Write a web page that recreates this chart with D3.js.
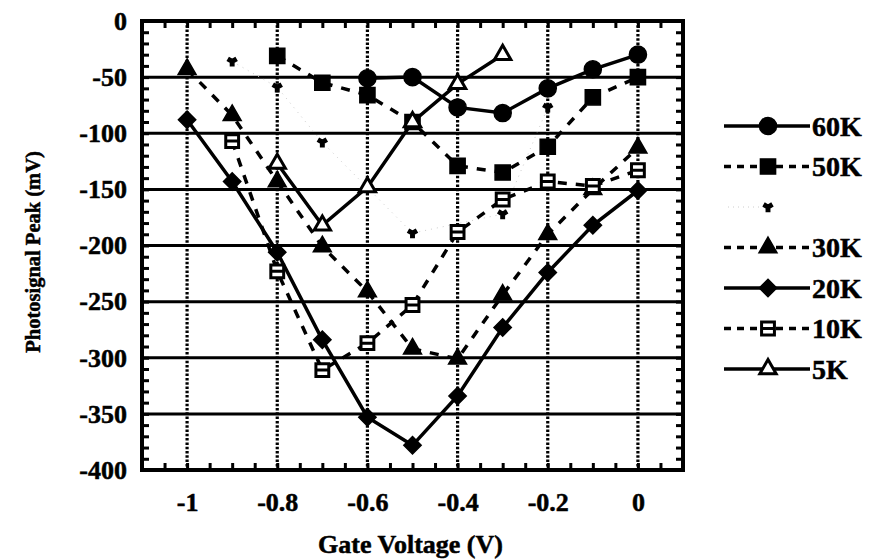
<!DOCTYPE html>
<html>
<head>
<meta charset="utf-8">
<script src="https://cdn.jsdelivr.net/npm/d3@7"></script>
<style>
  body { margin: 0; background: #fff; }
  svg text { font-family: "Liberation Serif", "DejaVu Serif", serif; font-weight: bold; fill: #000; stroke: #000; stroke-width: 0.5px; }
</style>
</head>
<body>
<svg width="872" height="560"></svg>
<script>
// gate voltage (V) for every column of readings
var voltages = [-1, -0.9, -0.8, -0.7, -0.6, -0.5, -0.4, -0.3, -0.2, -0.1, 0];

// photosignal peak (mV), null where that temperature has no point
var k60 = [null, null, null, null, -51, -50, -77, -82, -60, -43, -30];
var k50 = [null, null, -31, -55, -66, -90, -129, -135, -112, -68, -50];
var k40 = [null, -36, -59, -108, null, -189, null, -172, -77, null, null];
var k30 = [-43, -84, -143, -201, -241, -292, -301, -244, -190, -150, -113];
var k20 = [-88, -143, -206, -284, -353, -378, -334, -273, -224, -182, -151];
var k10 = [null, -107, -223, -311, -287, -253, -188, -159, -143, -147, -133];
var k5  = [null, null, -127, -182, -148, -90, -56, -30, null, null, null];

var seriesNames = ["60K", "50K", "", "30K", "20K", "10K", "5K"];
var xTicks = [-1, -0.8, -0.6, -0.4, -0.2, 0];
var yTicks = [0, -50, -100, -150, -200, -250, -300, -350, -400];

// open square with a bar through it (10K marker)
var barSquare = {
  draw: function(ctx, size) {
    var h = Math.sqrt(size) / 2;
    ctx.moveTo(-h, -h); ctx.lineTo(h, -h); ctx.lineTo(h, h); ctx.lineTo(-h, h); ctx.closePath();
    ctx.moveTo(-h, 0); ctx.lineTo(h, 0);
  }
};
// square-ish rhombus (20K marker)
var rhombus = {
  draw: function(ctx, size) {
    var r = Math.sqrt(size / 2);
    ctx.moveTo(0, -r); ctx.lineTo(r, 0); ctx.lineTo(0, r); ctx.lineTo(-r, 0); ctx.closePath();
  }
};

var styles = [
  {vals: k60, sym: d3.symbolCircle, size: 230, open: false, dash: null, color: "#000", width: 3.5},
  {vals: k50, sym: d3.symbolSquare, size: 230, open: false, dash: "9,9", color: "#000", width: 3.5},
  {vals: k40, sym: d3.symbolWye, size: 40, open: false, dash: "1,5", color: "#ccc", width: 1},
  {vals: k30, sym: d3.symbolTriangle, size: 140, open: false, dash: "9,9", color: "#000", width: 3.5},
  {vals: k20, sym: rhombus, size: 150, open: false, dash: null, color: "#000", width: 3.5},
  {vals: k10, sym: barSquare, size: 165, open: true, dash: "9,9", color: "#000", width: 3.5},
  {vals: k5, sym: d3.symbolTriangle, size: 115, open: true, dash: null, color: "#000", width: 3.5}
];

var drawChart = function() {
  var pLeft = 142, pRight = 683, pTop = 21, pBottom = 470;

  var x = d3.scaleLinear().domain([-1.1, 0.1]).range([pLeft, pRight]);
  var y = d3.scaleLinear().domain([0, -400]).range([pTop, pBottom]);

  var svg = d3.select("svg");

  svg.append("clipPath").attr("id", "plot")
    .append("rect")
    .attr("x", pLeft).attr("y", pTop)
    .attr("width", pRight - pLeft).attr("height", pBottom - pTop);

  // grid: solid horizontal, dotted vertical
  svg.append("g").selectAll("line")
    .data(yTicks.slice(1, -1)).enter()
    .append("line")
    .attr("x1", pLeft).attr("x2", pRight)
    .attr("y1", function(d) { return y(d); })
    .attr("y2", function(d) { return y(d); })
    .attr("stroke", "#000").attr("stroke-width", 3);

  svg.append("g").selectAll("line")
    .data(xTicks).enter()
    .append("line")
    .attr("y1", pTop).attr("y2", pBottom)
    .attr("x1", function(d) { return x(d); })
    .attr("x2", function(d) { return x(d); })
    .attr("stroke", "#000").attr("stroke-width", 3.2)
    .attr("stroke-dasharray", "2.5,1.8");

  // inward minor ticks on all four sides
  var xMinor = d3.range(-1.05, 0.1, 0.05);
  var yMinor = d3.range(-390, 0, 10);
  var tickStyle = function(g) {
    g.select(".domain").remove();
    g.selectAll("line").attr("stroke-width", 3);
  };
  svg.append("g").attr("transform", "translate(0," + pBottom + ")")
    .call(d3.axisBottom(x).tickValues(xMinor).tickSize(-7).tickFormat(""))
    .call(tickStyle);
  svg.append("g").attr("transform", "translate(0," + pTop + ")")
    .call(d3.axisTop(x).tickValues(xMinor).tickSize(-7).tickFormat(""))
    .call(tickStyle);
  svg.append("g").attr("transform", "translate(" + pLeft + ",0)")
    .call(d3.axisLeft(y).tickValues(yMinor).tickSize(-7).tickFormat(""))
    .call(tickStyle);
  svg.append("g").attr("transform", "translate(" + pRight + ",0)")
    .call(d3.axisRight(y).tickValues(yMinor).tickSize(-7).tickFormat(""))
    .call(tickStyle);

  // tick labels
  var xAxis = svg.append("g").attr("transform", "translate(0," + pBottom + ")")
    .call(d3.axisBottom(x).tickValues(xTicks).tickSize(0).tickPadding(23)
      .tickFormat(function(d) { return String(+d.toFixed(1)); }));
  xAxis.select(".domain").remove();
  xAxis.selectAll("text").style("font-size", "26px");

  var yAxis = svg.append("g").attr("transform", "translate(" + pLeft + ",0)")
    .call(d3.axisLeft(y).tickValues(yTicks).tickSize(0).tickPadding(15)
      .tickFormat(function(d) { return String(d); }));
  yAxis.select(".domain").remove();
  yAxis.selectAll("text").style("font-size", "26px");

  // series
  var plot = svg.append("g").attr("clip-path", "url(#plot)");

  var line = d3.line()
    .x(function(d) { return x(d.v); })
    .y(function(d) { return y(d.p); });

  styles.forEach(function(s) {
    var pts = [];
    s.vals.forEach(function(p, i) {
      if (p !== null) pts.push({v: voltages[i], p: p});
    });
    s.pts = pts;
    plot.append("path")
      .datum(pts)
      .attr("d", line)
      .attr("fill", "none")
      .attr("stroke", s.color)
      .attr("stroke-width", s.width)
      .attr("stroke-dasharray", s.dash);
  });

  styles.forEach(function(s) {
    plot.append("g").selectAll("path")
      .data(s.pts).enter()
      .append("path")
      .attr("transform", function(d) { return "translate(" + x(d.v) + "," + y(d.p) + ")"; })
      .attr("d", d3.symbol().type(s.sym).size(s.size))
      .attr("fill", s.open ? "#fff" : "#000")
      .attr("stroke", "#000")
      .attr("stroke-width", s.open ? 3 : 1.5);
  });

  // frame
  svg.append("rect")
    .attr("x", pLeft).attr("y", pTop)
    .attr("width", pRight - pLeft).attr("height", pBottom - pTop)
    .attr("fill", "none").attr("stroke", "#000").attr("stroke-width", 4);

  // axis titles
  svg.append("text")
    .attr("x", (pLeft + pRight) / 2 - 2).attr("y", 553)
    .attr("text-anchor", "middle")
    .style("font-size", "26px")
    .text("Gate Voltage (V)");

  svg.append("text")
    .attr("text-anchor", "middle")
    .attr("transform", "translate(40, 252)rotate(-90)")
    .style("font-size", "20.5px")
    .text("Photosignal Peak (mV)");

  // legend
  var legend = svg.append("g").selectAll("g")
    .data(styles).enter()
    .append("g")
    .attr("transform", function(d, i) { return "translate(0," + (126 + i * 40.5) + ")"; });

  legend.append("line")
    .attr("x1", function(d) { return d.width < 2 ? 728 : 724; })
    .attr("x2", function(d) { return d.width < 2 ? 766 : 810; })
    .attr("stroke", function(d) { return d.color; })
    .attr("stroke-width", function(d) { return d.width; })
    .attr("stroke-dasharray", function(d) { return d.dash ? (d.width < 2 ? "1,4" : "7,6") : null; });

  legend.append("path")
    .attr("transform", "translate(768,0)")
    .attr("d", function(d) { return d3.symbol().type(d.sym).size(d.size)(); })
    .attr("fill", function(d) { return d.open ? "#fff" : "#000"; })
    .attr("stroke", "#000")
    .attr("stroke-width", function(d) { return d.open ? 3 : 1.5; });

  legend.append("text")
    .attr("x", 812).attr("dy", "0.35em")
    .style("font-size", "28px")
    .text(function(d, i) { return seriesNames[i]; });
};

drawChart();
</script>
</body>
</html>
